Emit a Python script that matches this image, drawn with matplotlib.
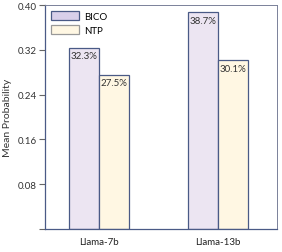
import matplotlib
matplotlib.use("Agg")
import matplotlib.pyplot as plt
import numpy as np

# data
models = ["Llama-7b", "Llama-13b"]
bico = [0.323, 0.387]
ntp = [0.275, 0.301]
yticks = [0.08, 0.16, 0.24, 0.32, 0.40]

plt.rcParams['font.family'] = ['Lato', 'DejaVu Sans']

fig = plt.figure(figsize=(2.82, 2.53), dpi=100)
ax = fig.add_axes([45 / 282, 1 - 230 / 253, 232 / 282, 224 / 253])

x = np.arange(len(models))
w = 0.25
edge = "#4a5a86"
b1 = ax.bar(x - w / 2, bico, w, color="#ece5f2", edgecolor=edge, linewidth=0.9, label="BICO")
b2 = ax.bar(x + w / 2, ntp, w, color="#fff7e3", edgecolor=edge, linewidth=0.9, label="NTP")

# percentage labels inside the top of each bar
for bars, vals in [(b1, bico), (b2, ntp)]:
    for r, v in zip(bars, vals):
        ax.text(r.get_x() + 0.012, v - 0.006, f"{v * 100:.1f}%", ha="left", va="top",
                fontsize=7, color="#333333")

ax.set_xlim(-0.455, 1.495)
ax.set_ylim(0, 0.40)
ax.set_yticks([0] + yticks)
ax.set_yticklabels([""] + [f"{t:.2f}" for t in yticks], fontsize=7, color="#333333")
ax.set_xticks(x)
ax.set_xticklabels(models, fontsize=7, color="#222222")
ax.tick_params(axis="x", length=0, pad=6)
ax.tick_params(axis="y", length=4, width=0.8, color="#666666", pad=2)
ax.set_ylabel("Mean Probability", fontsize=7.5, color="#333333", labelpad=4)

for side in ["left", "bottom"]:
    ax.spines[side].set_color(edge)
    ax.spines[side].set_linewidth(0.9)
for side in ["top", "right"]:
    ax.spines[side].set_color("#7a8199")
    ax.spines[side].set_linewidth(0.7)

leg = ax.legend(loc="upper left", frameon=False, fontsize=7, handlelength=2.9,
                handleheight=1.0, borderaxespad=0.2, labelspacing=0.45,
                handletextpad=0.5, bbox_to_anchor=(0.0, 1.0))
leg.get_patches()[0].set_facecolor("#d8cfea")
leg.get_patches()[1].set_edgecolor("#999999")

fig.savefig("out.png", dpi=100)
